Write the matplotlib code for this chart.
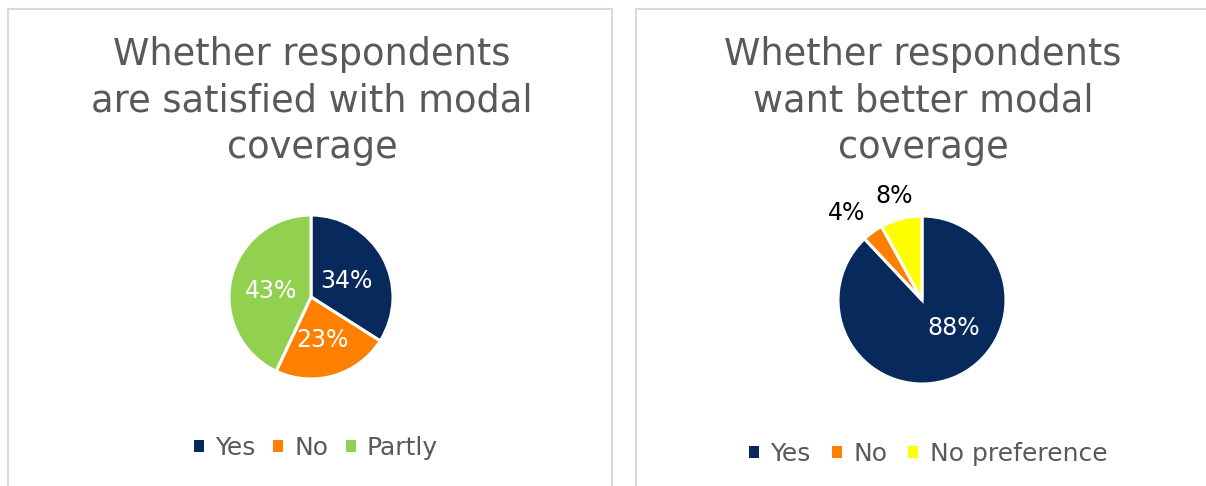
import matplotlib
matplotlib.use("Agg")
import matplotlib.pyplot as plt
import numpy as np
from matplotlib.patches import Rectangle, Patch

# data
sat_labels = ["Yes", "No", "Partly"]
sat_values = [34, 23, 43]
sat_colors = ["#08295B", "#FF8000", "#92D050"]

want_labels = ["Yes", "No", "No preference"]
want_values = [88, 4, 8]
want_colors = ["#08295B", "#FF8000", "#FFFF00"]

W, H = 1206, 486
fig = plt.figure(figsize=(W / 100, H / 100), dpi=100)
plt.rcParams['font.family'] = ['DejaVu Sans']

grey = "#595959"

# panel borders (pixel coords -> figure fraction)
def px_rect(x0, y0, x1, y1):
    return Rectangle((x0 / W, 1 - y1 / H), (x1 - x0) / W, (y1 - y0) / H,
                     transform=fig.transFigure, fill=False,
                     edgecolor="#D9D9D9", linewidth=1.5)

fig.patches.append(px_rect(8, 9, 612, 500))
fig.patches.append(px_rect(636, 9, 1220, 500))


def pie_axes(cx, cy, r):
    return fig.add_axes([(cx - r) / W, 1 - (cy + r) / H, 2 * r / W, 2 * r / H])


def finish(ax):
    ax.set_xlim(-1, 1)
    ax.set_ylim(-1, 1)
    ax.set_aspect("auto")
    ax.axis("off")


# left chart
fig.text(312 / W, 1 - 36 / H, "Whether respondents\nare satisfied with modal\ncoverage",
         ha="center", va="top", fontsize=26.5, color=grey, linespacing=1.33)
ax1 = pie_axes(311, 297, 82)
wedges1, _ = ax1.pie(sat_values, colors=sat_colors, startangle=90, counterclock=False,
                     radius=1, wedgeprops=dict(edgecolor="white", linewidth=2.2))
for w, v in zip(wedges1, sat_values):
    ang = np.deg2rad((w.theta1 + w.theta2) / 2)
    d = 0.5
    ax1.text(d * np.cos(ang), d * np.sin(ang) - 0.04, f"{v}%", ha="center", va="center",
             fontsize=17, color="white")
finish(ax1)

handles1 = [Patch(facecolor=c, edgecolor="none") for c in sat_colors]
fig.legend(handles1, sat_labels, loc="center", bbox_to_anchor=(316 / W, 1 - 448 / H),
           ncol=3, frameon=False, fontsize=18, labelcolor=grey,
           handlelength=0.4, handleheight=0.4, handletextpad=0.45, columnspacing=0.7)

# right chart
fig.text(923 / W, 1 - 36 / H, "Whether respondents\nwant better modal\ncoverage",
         ha="center", va="top", fontsize=26.5, color=grey, linespacing=1.33)
ax2 = pie_axes(922, 300, 84)
wedges2, _ = ax2.pie(want_values, colors=want_colors, startangle=90, counterclock=False,
                     radius=1, wedgeprops=dict(edgecolor="white", linewidth=2.2))
# label placement: (angle offset from mid, distance, colour)
label_style = [(0, 0.5, "white"), (5, 1.37, "black"), (0.6, 1.28, "black")]
for w, v, (off, d, col) in zip(wedges2, want_values, label_style):
    mid = (w.theta1 + w.theta2) / 2
    if v == 88:
        mid = -42
    ang = np.deg2rad(mid + off)
    ax2.text(d * np.cos(ang), d * np.sin(ang), f"{v}%", ha="center", va="center",
             fontsize=17, color=col, clip_on=False)
finish(ax2)

handles2 = [Patch(facecolor=c, edgecolor="none") for c in want_colors]
fig.legend(handles2, want_labels, loc="center", bbox_to_anchor=(928 / W, 1 - 454 / H),
           ncol=3, frameon=False, fontsize=18, labelcolor=grey,
           handlelength=0.4, handleheight=0.4, handletextpad=0.45, columnspacing=0.85)

fig.savefig("out.png", dpi=100, facecolor="white")
